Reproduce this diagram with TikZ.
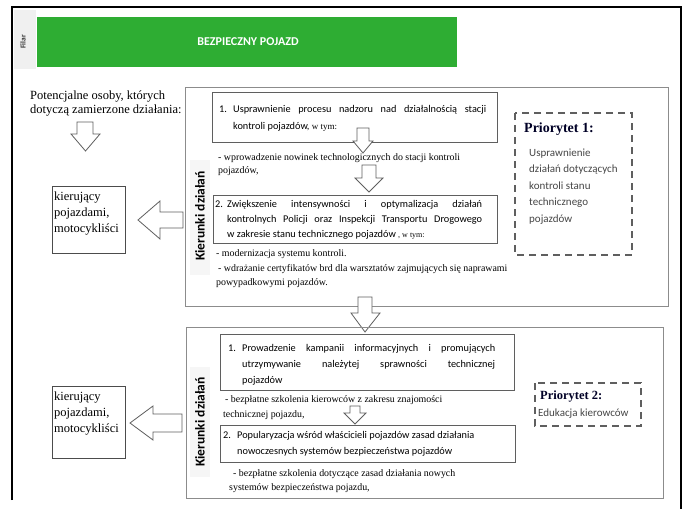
\documentclass[tikz,border=0pt]{standalone}
\usepackage{fontspec}
\setmainfont{Liberation Serif}
\newfontfamily\calib{Carlito}
\definecolor{hdrgreen}{RGB}{46,173,51}
\definecolor{boxgray}{RGB}{95,95,95}
\definecolor{outgray}{RGB}{140,140,140}
\definecolor{txtgray}{RGB}{70,70,70}
\begin{document}
\begin{tikzpicture}[x=1pt,y=-1pt,
  ibox/.style={draw=boxgray, line width=0.8pt},
  obox/.style={draw=outgray, line width=0.9pt},
  lbox/.style={draw=boxgray!80!black, line width=0.8pt},
  blockarrow/.style={draw=boxgray, fill=white, line width=0.8pt, line join=miter},
  prio/.style={draw=boxgray, line width=1.1pt, dash pattern=on 7pt off 5pt},
  sert/.style={anchor=base west, inner sep=0pt, font=\fontsize{9.9}{11}\selectfont},
  calt/.style={anchor=base west, inner sep=0pt, font=\calib\fontsize{10.3}{12}\selectfont},
  bigt/.style={anchor=base west, inner sep=0pt, font=\fontsize{12.5}{15}\selectfont},
  kier/.style={rotate=90, inner sep=0pt, font=\calib\bfseries\fontsize{13.5}{15}\selectfont},
  priot/.style={anchor=base west, inner sep=0pt, font=\bfseries\fontsize{12.5}{15}\selectfont, text=black!85!blue},
  priob/.style={anchor=base west, inner sep=0pt, font=\calib\fontsize{11}{13}\selectfont, text=txtgray}]
\useasboundingbox (0,0) rectangle (689,509);
\fill[white] (0,0) rectangle (689,509);
% outer frame
\draw[line width=1.6pt] (12,500) -- (12,7) -- (681,7) -- (681,509);
% header
\fill[gray!12] (14,10) rectangle (36,69);
\fill[hdrgreen] (37,17) rectangle (457,67);
\node[font=\calib\bfseries\fontsize{12}{14}\selectfont, text=white] (title) at (248,42) {BEZPIECZNY POJAZD};
\node[rotate=90, font=\calib\bfseries\fontsize{7.5}{9}\selectfont, text=black!80] (filar) at (23,42) {Filar};
% left column
\node[bigt] (pot1) at (30,99) {Potencjalne osoby, których};
\node[bigt] (pot2) at (30,113) {dotyczą zamierzone działania:};
\draw[blockarrow] (77,122) -- (93,122) -- (93,134) -- (100,134) -- (85.5,151) -- (71,134) -- (77,134) -- cycle;
\draw[lbox] (52,186) rectangle (125,253);
\node[bigt] (k1a) at (54,200) {kierujący};
\node[bigt] (k1b) at (54,216) {pojazdami,};
\node[bigt] (k1c) at (54,232) {motocykliści};
\draw[blockarrow] (138,220) -- (160,201) -- (160,212) -- (183,212) -- (183,228) -- (160,228) -- (160,239) -- cycle;
\draw[lbox] (52,386) rectangle (125,458);
\node[bigt] (k2a) at (54,400) {kierujący};
\node[bigt] (k2b) at (54,416) {pojazdami,};
\node[bigt] (k2c) at (54,432) {motocykliści};
\draw[blockarrow] (130,423) -- (153,406) -- (153,414) -- (182,414) -- (182,432) -- (153,432) -- (153,440) -- cycle;
% upper section
\draw[obox] (185,87) rectangle (668,306);
\fill[gray!7] (190,160) rectangle (210,275);
\node[kier] (kier1) at (200,216) {Kierunki działań};
\draw[ibox] (212,92) rectangle (497,142);
\node[calt] (b1n) at (219,112) {1.};
\node[calt] (b1a) at (233,112) {\makebox[253pt][s]{Usprawnienie procesu nadzoru nad działalnością stacji}};
\node[calt] (b1b) at (233,129) {kontroli pojazdów, {\rmfamily\fontsize{9}{10}\selectfont w tym:}};
\draw[blockarrow] (357,128) -- (369,128) -- (369,141) -- (373,141) -- (363,153) -- (353,141) -- (357,141) -- cycle;
\node[sert] (t1a) at (218,160) {- wprowadzenie nowinek technologicznych do stacji kontroli};
\node[sert] (t1b) at (218,173) {pojazdów,};
\draw[blockarrow] (362,165) -- (376,165) -- (376,178) -- (383,178) -- (369,192) -- (355,178) -- (362,178) -- cycle;
\draw[ibox] (213,195) rectangle (497,243);
\node[calt] (b2n) at (215,207) {2.};
\node[calt] (b2a) at (227,207) {\makebox[255pt][s]{Zwiększenie intensywności i optymalizacja działań}};
\node[calt] (b2b) at (227,222) {\makebox[255pt][s]{kontrolnych Policji oraz Inspekcji Transportu Drogowego}};
\node[calt] (b2c) at (227,237) {w zakresie stanu technicznego pojazdów {\rmfamily\fontsize{8}{9}\selectfont, w tym:}};
\node[sert] (t2a) at (216,256) {- modernizacja systemu kontroli.};
\node[sert] (t2b) at (218,271) {- wdrażanie certyfikatów brd dla warsztatów zajmujących się naprawami};
\node[sert] (t2c) at (216,285) {powypadkowymi pojazdów.};
\draw[prio] (515,113) rectangle (632,255);
\node[priot, font=\bfseries\fontsize{14}{16}\selectfont] (p1t) at (524,132) {Priorytet 1:};
\node[priob] (p1a) at (529,156) {Usprawnienie};
\node[priob] (p1b) at (529,172.5) {działań dotyczących};
\node[priob] (p1c) at (529,189) {kontroli stanu};
\node[priob] (p1d) at (529,205.5) {technicznego};
\node[priob] (p1e) at (529,222) {pojazdów};
% arrow between sections
\draw[blockarrow] (358,297) -- (372,297) -- (372,313) -- (380,313) -- (365,332) -- (351,313) -- (358,313) -- cycle;
% lower section
\draw[obox] (186,327) rectangle (663,498);
\fill[gray!7] (190,367) rectangle (210,477);
\node[kier] (kier2) at (200,422) {Kierunki działań};
\draw[ibox] (220,334) rectangle (514,390);
\node[calt] (b3n) at (228,351) {1.};
\node[calt] (b3a) at (242,351) {\makebox[253pt][s]{Prowadzenie kampanii informacyjnych i promujących}};
\node[calt] (b3b) at (242,367) {\makebox[253pt][s]{utrzymywanie należytej sprawności technicznej}};
\node[calt] (b3c) at (242,383) {pojazdów};
\node[sert] (t3a) at (225,402) {- bezpłatne szkolenia kierowców z zakresu znajomości};
\node[sert] (t3b) at (223,417) {technicznej pojazdu,};
\draw[blockarrow] (350,406) -- (360,406) -- (360,413) -- (366,413) -- (355,424) -- (344,413) -- (350,413) -- cycle;
\draw[ibox] (220,425) rectangle (515,462);
\node[calt] (b4n) at (223,438) {2.};
\node[calt] (b4a) at (237,438) {Popularyzacja wśród właścicieli pojazdów zasad działania};
\node[calt] (b4b) at (237,454) {nowoczesnych systemów bezpieczeństwa pojazdów};
\node[sert] (t4a) at (233,476) {- bezpłatne szkolenia dotyczące zasad działania nowych};
\node[sert] (t4b) at (229,490) {systemów bezpieczeństwa pojazdu,};
\draw[prio] (535,383) rectangle (641,426);
\node[priot] (p2t) at (540,399) {Priorytet 2:};
\node[priob] (p2a) at (538,416) {Edukacja kierowców};
\end{tikzpicture}
\end{document}
